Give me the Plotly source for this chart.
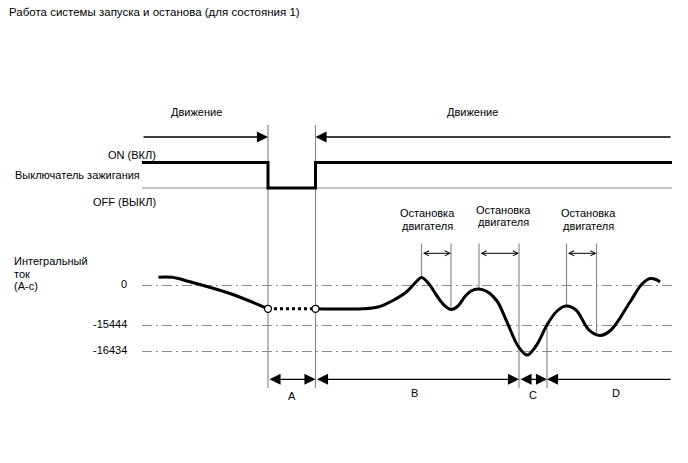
import plotly.graph_objects as go

W, H = 688, 463
FONT = "Liberation Sans, Arial, sans-serif"
GREY = "#8c8c8c"

title = "Работа системы запуска и останова (для состояния 1)"

# ---- time marks (diagram x units) ----
t_start = 142
t_off = 268
t_on = 315.5
t_b_end = 519
t_c_end = 547
t_end = 672

# ---- levels (diagram y units) ----
level_labels = ["0", "-15444", "-16434"]
level_y = [285.5, 325.5, 351.5]

# ---- ignition switch signal ----
ign_on_y = 162.5
ign_off_y = 188
ign_x = [t_start, t_off, t_off, t_on, t_on, t_end]
ign_y = [ign_on_y, ign_on_y, ign_off_y, ign_off_y, ign_on_y, ign_on_y]

# ---- integrated current curve ----
curve1_x = [158.5, 172, 190, 230, 268]
curve1_y = [277.3, 277.3, 281.8, 293.5, 308.8]
gap_x = [t_off, t_on]
gap_y = [308.8, 308.8]
curve2_x = [315.5, 362, 378, 392, 407, 416, 421.7, 429, 437, 445, 451, 458, 465, 471, 478.3,
            487, 497, 507, 518, 527, 536, 547, 557, 566, 576, 589, 600, 611,
            630, 642, 650, 656, 660]
curve2_y = [308.8, 308.8, 307, 301, 291.5, 282, 277.5, 284, 296, 306, 309.5, 306, 296.5, 291, 289,
            291.5, 301, 322, 346, 355, 346, 325, 311, 306, 310, 330, 335.5, 330,
            302, 284, 278.5, 279.5, 282]

# ---- engine stop intervals ----
stop_starts = [421.5, 479, 566.5]
stop_ends = [451, 519, 596.5]
stop_start_y = [277, 289, 306]
stop_end_y = [309, 388, 333]
stop_label_x = [427, 503, 588]
stop_label_y = [213, 209.5, 213]

# ---- segments ----
seg_names = ["A", "B", "C", "D"]
seg_bounds = [(t_off, t_on), (t_on, t_b_end), (t_b_end, t_c_end), (t_c_end, t_end)]
seg_label_x = [291.5, 414, 532.5, 616]
seg_label_y = [396, 393, 395, 393]
dim_y = 379.3

fig = go.Figure()

# ignition switch
fig.add_trace(go.Scatter(x=ign_x, y=ign_y, mode="lines",
                         line=dict(color="black", width=3), hoverinfo="skip"))
# curve part 1
fig.add_trace(go.Scatter(x=curve1_x, y=curve1_y, mode="lines",
                         line=dict(color="black", width=3, shape="spline", smoothing=1),
                         hoverinfo="skip"))
# dotted gap
fig.add_trace(go.Scatter(x=gap_x, y=gap_y, mode="lines",
                         line=dict(color="black", width=3, dash="dot"), hoverinfo="skip"))
# curve part 2
fig.add_trace(go.Scatter(x=curve2_x, y=curve2_y, mode="lines",
                         line=dict(color="black", width=3, shape="spline", smoothing=1),
                         hoverinfo="skip"))
# open circles
fig.add_trace(go.Scatter(x=gap_x, y=gap_y, mode="markers",
                         marker=dict(symbol="circle", size=7, color="white",
                                     line=dict(color="black", width=1.3)),
                         hoverinfo="skip"))

shapes = []
# OFF reference line
shapes.append(dict(type="line", xref="x", yref="y", x0=t_start, x1=t_end,
                   y0=ign_off_y, y1=ign_off_y, line=dict(color=GREY, width=1.2), layer="below"))
# dash-dot level lines
for ly in level_y:
    shapes.append(dict(type="line", xref="x", yref="y", x0=t_start, x1=t_end,
                       y0=ly, y1=ly, line=dict(color=GREY, width=1, dash="10px,4px,2px,4px"),
                       layer="below"))
# main vertical lines
for tx in [t_off, t_on]:
    shapes.append(dict(type="line", xref="x", yref="y", x0=tx, x1=tx, y0=125, y1=388,
                       line=dict(color=GREY, width=1.2), layer="below"))
# engine stop vertical lines
for sx, sy in zip(stop_starts, stop_start_y):
    shapes.append(dict(type="line", xref="x", yref="y", x0=sx, x1=sx, y0=243.5, y1=sy,
                       line=dict(color=GREY, width=1.2), layer="below"))
for ex, ey in zip(stop_ends, stop_end_y):
    shapes.append(dict(type="line", xref="x", yref="y", x0=ex, x1=ex, y0=243.5, y1=ey,
                       line=dict(color=GREY, width=1.2), layer="below"))
# C/D boundary
shapes.append(dict(type="line", xref="x", yref="y", x0=t_c_end, x1=t_c_end, y0=323, y1=388,
                   line=dict(color=GREY, width=1.2), layer="below"))

ann = []
def txt(x, y, s, xanchor="center", size=11):
    ann.append(dict(x=x, y=y, xref="x", yref="y", text=s, showarrow=False,
                    xanchor=xanchor, yanchor="middle",
                    font=dict(family=FONT, size=size, color="black")))

txt(7, 12, title, "left", 11.5)
txt(196, 112, "Движение")
txt(472, 112, "Движение")
txt(158, 155, "ON (ВКЛ)", "right")
txt(13, 175, "Выключатель зажигания", "left")
txt(158, 202, "OFF (ВЫКЛ)", "right")
txt(12, 261, "Интегральный", "left")
txt(12, 273.5, "ток", "left")
txt(12, 286, "(А-с)", "left")
for lab, ly in zip(level_labels, level_y):
    txt(128.5, ly - 1.5, lab, "right")
for lx, ly in zip(stop_label_x, stop_label_y):
    txt(lx, ly, "Остановка")
    txt(lx, ly + 12.5, "двигателя")
for name, lx, ly in zip(seg_names, seg_label_x, seg_label_y):
    txt(lx, ly, name)

def arrow(x0, y0, x1, y1, side="end", head=2, size=1.7, width=1.3, startsize=None):
    ann.append(dict(x=x1, y=y1, ax=x0, ay=y0, xref="x", yref="y", axref="x", ayref="y",
                    text="", showarrow=True, arrowhead=head, startarrowhead=head,
                    arrowsize=size, startarrowsize=startsize or size,
                    arrowwidth=width, arrowcolor="black", arrowside=side,
                    standoff=0, startstandoff=0))

# movement arrows
arrow(t_start, 137, t_off, 137)
arrow(t_end, 137, t_on, 137)
# segment dimension arrows
for i, (a, b) in enumerate(seg_bounds):
    if i == len(seg_bounds) - 1:
        arrow(b, dim_y, a, dim_y, side="end")
    else:
        arrow(a, dim_y, b, dim_y, side="end+start")
# engine stop arrows
for a, b in zip(stop_starts, stop_ends):
    arrow(a, 253.3, b, 253.3, side="end+start", head=5, size=1, width=1)

fig.update_layout(
    width=W, height=H, margin=dict(l=0, r=0, t=0, b=0),
    paper_bgcolor="white", plot_bgcolor="white", showlegend=False,
    xaxis=dict(range=[0, W], visible=False, fixedrange=True),
    yaxis=dict(range=[H, 0], visible=False, fixedrange=True),
    shapes=shapes, annotations=ann,
)

fig.write_html("out.html", config={"displayModeBar": False})
